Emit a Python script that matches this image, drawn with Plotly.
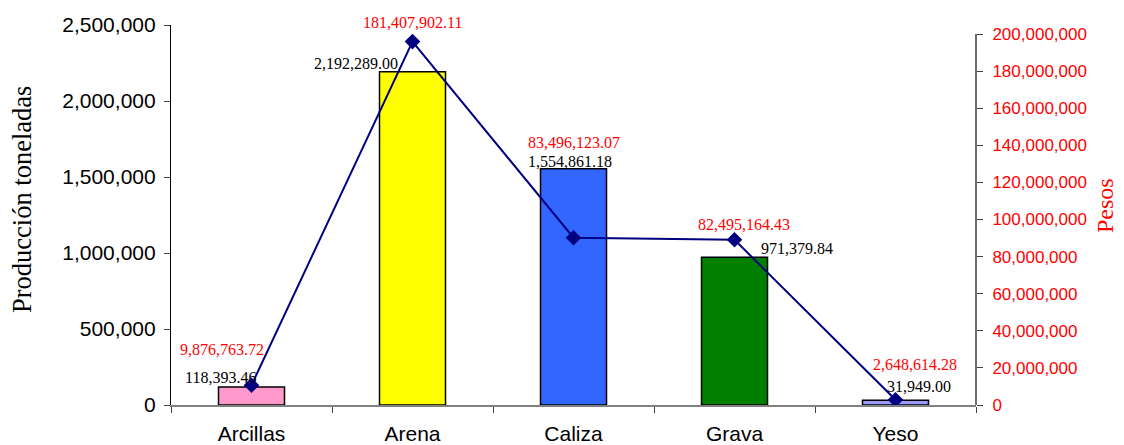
import plotly.graph_objects as go

categories = ["Arcillas", "Arena", "Caliza", "Grava", "Yeso"]
produccion = [118393.46, 2192289.00, 1554861.18, 971379.84, 31949.00]
pesos = [9876763.72, 181407902.11, 83496123.07, 82495164.43, 2648614.28]
bar_colors = ["#FF99CC", "#FFFF00", "#3366FF", "#008000", "#9999FF"]
left_ticks = [0, 500000, 1000000, 1500000, 2000000, 2500000]
right_ticks = [0, 20e6, 40e6, 60e6, 80e6, 100e6, 120e6, 140e6, 160e6, 180e6, 200e6]

# label offsets (pixels) as placed in the reference
bar_lab_shift = [(-31, 10), (-57, 8), (-4, 7), (62, 9), (23, 14)]
line_lab_shift = [(-30, 36), (0, 19), (0, 95), (9, 15), (19, 35)]

SERIF = "Liberation Serif"
SANS = "Liberation Sans"

# page body has an 8px margin, so the figure is offset by 8px
OFF = 8
W, H = 1124 - OFF, 445 - OFF
L, T = 171 - OFF, 25 - OFF
PW, PH = 805, 380
R, B = W - L - PW, H - T - PH

fig = go.Figure()
fig.add_trace(go.Bar(
    x=categories, y=produccion, width=0.41,
    marker=dict(color=bar_colors, line=dict(color="black", width=1.5)),
    yaxis="y", showlegend=False, hoverinfo="skip"))
fig.add_trace(go.Scatter(
    x=categories, y=pesos, mode="lines+markers",
    line=dict(color="#000080", width=2),
    marker=dict(symbol="diamond", size=12, color="#000080"),
    yaxis="y3", showlegend=False, hoverinfo="skip"))

# invisible trace to instantiate the labelled right axis
fig.add_trace(go.Scatter(x=categories, y=[0]*len(categories), yaxis="y2",
                         mode="markers", marker=dict(opacity=0), showlegend=False,
                         hoverinfo="skip"))

annotations = []
for c, v, (dx, dy) in zip(categories, produccion, bar_lab_shift):
    annotations.append(dict(x=c, y=v, xref="x", yref="y", text=f"{v:,.2f}",
                            showarrow=False, xshift=dx, yshift=dy,
                            yanchor="middle",
                            font=dict(family=SERIF, size=16, color="black")))
for c, v, (dx, dy) in zip(categories, pesos, line_lab_shift):
    annotations.append(dict(x=c, y=v, xref="x", yref="y3", text=f"{v:,.2f}",
                            showarrow=False, xshift=dx, yshift=dy,
                            yanchor="middle",
                            font=dict(family=SERIF, size=16, color="#FF0000")))
annotations.append(dict(x=(22 - 171) / PW, y=(405 - 200) / PH, xref="paper", yref="paper",
                        text="Producción toneladas", textangle=-90,
                        showarrow=False, xanchor="center", yanchor="middle",
                        font=dict(family=SERIF, size=26.5, color="black")))
annotations.append(dict(x=(1105 - 171) / PW, y=(405 - 206) / PH, xref="paper", yref="paper",
                        text="Pesos", textangle=-90, showarrow=False,
                        xanchor="center", yanchor="middle",
                        font=dict(family=SERIF, size=24, color="#FF0000")))

fig.update_layout(
    width=W, height=H,
    margin=dict(l=L, r=R, t=T, b=B, autoexpand=False),
    paper_bgcolor="white", plot_bgcolor="white",
    xaxis=dict(type="category", showgrid=False, showline=True,
               automargin=False,
               linecolor="#808080", linewidth=1.5,
               ticks="outside", tickson="boundaries", ticklen=6,
               tickcolor="#404040",
               tickfont=dict(family=SANS, size=21, color="black"),
               ticklabelstandoff=9),
    yaxis=dict(range=[0, 2500000], tickvals=left_ticks, tickformat=",",
               automargin=False,
               showgrid=False, zeroline=False, showline=True,
               linecolor="black", linewidth=1.2, ticks="outside", ticklen=6,
               tickfont=dict(family=SANS, size=21, color="black"),
               ticklabelstandoff=4),
    yaxis2=dict(overlaying="y", side="right", range=[0, 200e6 * 380 / 371],
                automargin=False,
                tickvals=right_ticks, tickformat=",", showgrid=False,
                zeroline=False, showline=False, ticks="outside", ticklen=6,
                tickcolor="#404040",
                tickfont=dict(family=SANS, size=17, color="#FF0000"),
                ticklabelstandoff=6),
    yaxis3=dict(overlaying="y", side="right", range=[0, 189.7e6],
                visible=False, showgrid=False, zeroline=False),
    annotations=annotations,
    shapes=[dict(type="line", xref="paper", yref="y2", x0=1, x1=1,
                 y0=0, y1=200e6, line=dict(color="#404040", width=1.5))],
)

fig.write_html("out.html")
